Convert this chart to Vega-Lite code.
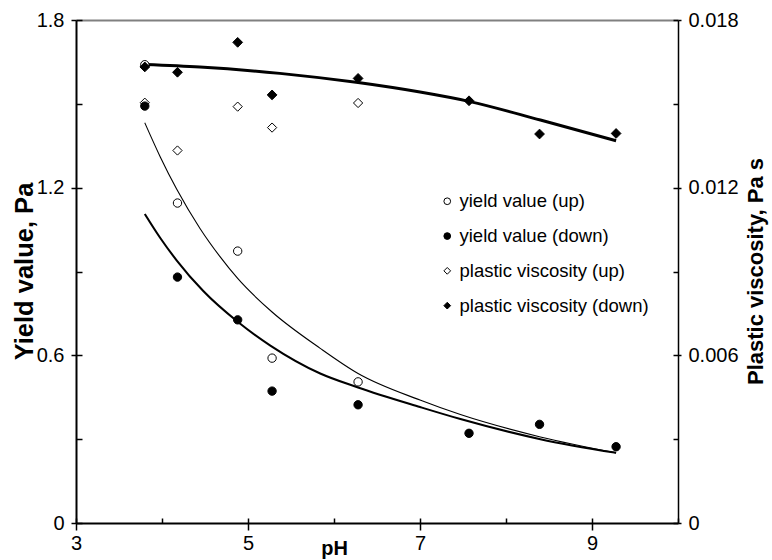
{
  "$schema": "https://vega.github.io/schema/vega-lite/v6.json",
  "width": 602,
  "height": 503,
  "autosize": {"type": "none"},
  "padding": {"left": 76, "top": 20, "right": 94, "bottom": 37},
  "background": "white",
  "config": {
    "font": "Liberation Sans",
    "view": {"stroke": null},
    "axis": {
      "grid": false,
      "domainColor": "black",
      "tickColor": "black",
      "labelColor": "black",
      "titleColor": "black",
      "labelFont": "Liberation Sans",
      "titleFont": "Liberation Sans",
      "labelFontSize": 20,
      "titleFontSize": 23,
      "titleFontWeight": "bold",
      "domainWidth": 2,
      "tickWidth": 1.5,
      "labelFlush": false,
      "labelOverlap": false
    },
    "legend": {
      "labelFontSize": 18.5,
      "labelFont": "Liberation Sans",
      "labelColor": "black",
      "labelLimit": 400,
      "symbolSize": 45,
      "rowPadding": 15.8,
      "labelOffset": 3,
      "symbolStrokeColor": "black",
      "symbolStrokeWidth": 1,
      "padding": 0
    }
  },
  "datasets": {
    "pts": [
      {"pH": 3.8, "value": 1.640, "series": "yield value (up)"},
      {"pH": 4.18, "value": 1.145, "series": "yield value (up)"},
      {"pH": 4.88, "value": 0.973, "series": "yield value (up)"},
      {"pH": 5.28, "value": 0.590, "series": "yield value (up)"},
      {"pH": 6.28, "value": 0.505, "series": "yield value (up)"},
      {"pH": 3.8, "value": 1.492, "series": "yield value (down)"},
      {"pH": 4.18, "value": 0.880, "series": "yield value (down)"},
      {"pH": 4.88, "value": 0.727, "series": "yield value (down)"},
      {"pH": 5.28, "value": 0.472, "series": "yield value (down)"},
      {"pH": 6.28, "value": 0.423, "series": "yield value (down)"},
      {"pH": 7.57, "value": 0.321, "series": "yield value (down)"},
      {"pH": 8.39, "value": 0.353, "series": "yield value (down)"},
      {"pH": 9.28, "value": 0.273, "series": "yield value (down)"},
      {"pH": 3.8, "value": 0.01504, "series": "plastic viscosity (up)"},
      {"pH": 4.18, "value": 0.01333, "series": "plastic viscosity (up)"},
      {"pH": 4.88, "value": 0.01490, "series": "plastic viscosity (up)"},
      {"pH": 5.28, "value": 0.01415, "series": "plastic viscosity (up)"},
      {"pH": 6.28, "value": 0.01503, "series": "plastic viscosity (up)"},
      {"pH": 3.8, "value": 0.01632, "series": "plastic viscosity (down)"},
      {"pH": 4.18, "value": 0.01613, "series": "plastic viscosity (down)"},
      {"pH": 4.88, "value": 0.01720, "series": "plastic viscosity (down)"},
      {"pH": 5.28, "value": 0.01532, "series": "plastic viscosity (down)"},
      {"pH": 6.28, "value": 0.01591, "series": "plastic viscosity (down)"},
      {"pH": 7.57, "value": 0.01511, "series": "plastic viscosity (down)"},
      {"pH": 8.39, "value": 0.01392, "series": "plastic viscosity (down)"},
      {"pH": 9.28, "value": 0.01394, "series": "plastic viscosity (down)"}
    ],
    "fits": [
      {"pH": 3.80, "value": 1.432, "curve": "yield up fit"},
      {"pH": 3.98, "value": 1.310, "curve": "yield up fit"},
      {"pH": 4.17, "value": 1.195, "curve": "yield up fit"},
      {"pH": 4.44, "value": 1.055, "curve": "yield up fit"},
      {"pH": 4.67, "value": 0.955, "curve": "yield up fit"},
      {"pH": 4.88, "value": 0.875, "curve": "yield up fit"},
      {"pH": 5.28, "value": 0.755, "curve": "yield up fit"},
      {"pH": 5.84, "value": 0.625, "curve": "yield up fit"},
      {"pH": 6.28, "value": 0.535, "curve": "yield up fit"},
      {"pH": 7.00, "value": 0.440, "curve": "yield up fit"},
      {"pH": 7.47, "value": 0.388, "curve": "yield up fit"},
      {"pH": 8.40, "value": 0.308, "curve": "yield up fit"},
      {"pH": 9.28, "value": 0.251, "curve": "yield up fit"},
      {"pH": 3.80, "value": 1.106, "curve": "yield down fit"},
      {"pH": 3.98, "value": 1.020, "curve": "yield down fit"},
      {"pH": 4.17, "value": 0.940, "curve": "yield down fit"},
      {"pH": 4.48, "value": 0.830, "curve": "yield down fit"},
      {"pH": 4.88, "value": 0.720, "curve": "yield down fit"},
      {"pH": 5.26, "value": 0.635, "curve": "yield down fit"},
      {"pH": 5.84, "value": 0.535, "curve": "yield down fit"},
      {"pH": 6.28, "value": 0.485, "curve": "yield down fit"},
      {"pH": 7.00, "value": 0.415, "curve": "yield down fit"},
      {"pH": 7.47, "value": 0.372, "curve": "yield down fit"},
      {"pH": 8.40, "value": 0.300, "curve": "yield down fit"},
      {"pH": 9.28, "value": 0.251, "curve": "yield down fit"},
      {"pH": 3.80, "value": 0.01641, "curve": "viscosity down fit"},
      {"pH": 4.44, "value": 0.01632, "curve": "viscosity down fit"},
      {"pH": 5.37, "value": 0.01609, "curve": "viscosity down fit"},
      {"pH": 6.28, "value": 0.01576, "curve": "viscosity down fit"},
      {"pH": 7.00, "value": 0.01542, "curve": "viscosity down fit"},
      {"pH": 7.58, "value": 0.01508, "curve": "viscosity down fit"},
      {"pH": 8.40, "value": 0.01442, "curve": "viscosity down fit"},
      {"pH": 9.28, "value": 0.01368, "curve": "viscosity down fit"}
    ]
  },
  "layer": [
    {
      "layer": [
        {
          "data": {"name": "fits"},
          "transform": [{"filter": {"field": "curve", "equal": "viscosity down fit"}}],
          "mark": {"type": "line", "color": "black", "interpolate": "monotone", "strokeJoin": "round"},
          "encoding": {
            "x": {"field": "pH", "type": "quantitative", "scale": {"domain": [3, 10], "nice": false},
              "axis": {"orient": "top", "domainColor": "#808080", "domainWidth": 2, "ticks": false, "labels": false, "title": null}},
            "y": {"field": "value", "type": "quantitative", "scale": {"domain": [0, 0.018], "nice": false},
              "axis": {"orient": "right", "values": [0, 0.006, 0.012, 0.018], "format": ".3~f", "tickSize": 3, "labelPadding": 7, "domainWidth": 1.5,
                "title": "Plastic viscosity, Pa s", "titleFontSize": 22, "titleAngle": 270, "titleX": 77, "titleY": 251, "titleBaseline": "middle", "titleAlign": "center"}},
            "detail": {"field": "curve"},
            "strokeWidth": {"field": "curve", "type": "nominal", "scale": {"domain": ["yield up fit", "yield down fit", "viscosity down fit"], "range": [1.1, 3, 3]}, "legend": null}
          }
        },
        {
          "data": {"name": "pts"},
          "transform": [{"filter": {"field": "series", "equal": "plastic viscosity (up)"}}],
          "mark": {"type": "point", "filled": true, "strokeWidth": 1, "opacity": 1, "size": 85},
          "encoding": {
            "x": {"field": "pH", "type": "quantitative"},
            "y": {"field": "value", "type": "quantitative"},
            "shape": {"field": "series", "type": "nominal",
              "scale": {"domain": ["yield value (up)", "yield value (down)", "plastic viscosity (up)", "plastic viscosity (down)"], "range": ["circle", "circle", "diamond", "diamond"]},
              "legend": {"orient": "none", "legendX": 362, "legendY": 172, "title": null}},
            "fill": {"field": "series", "type": "nominal",
              "scale": {"domain": ["yield value (up)", "yield value (down)", "plastic viscosity (up)", "plastic viscosity (down)"], "range": ["white", "black", "white", "black"]},
              "legend": {"orient": "none", "legendX": 362, "legendY": 172, "title": null}},
            "stroke": {"field": "series", "type": "nominal",
              "scale": {"domain": ["yield value (up)", "yield value (down)", "plastic viscosity (up)", "plastic viscosity (down)"], "range": ["black", "black", "black", "black"]},
              "legend": {"orient": "none", "legendX": 362, "legendY": 172, "title": null}}
          }
        }
      ]
    },
    {
      "layer": [
        {
          "data": {"name": "fits"},
          "transform": [{"filter": {"field": "curve", "oneOf": ["yield up fit", "yield down fit"]}}],
          "mark": {"type": "line", "color": "black", "interpolate": "monotone", "strokeJoin": "round"},
          "encoding": {
            "x": {"field": "pH", "type": "quantitative", "scale": {"domain": [3, 10], "nice": false},
              "axis": {"orient": "bottom", "values": [3, 5, 7, 9], "tickSize": 7, "labelPadding": 3,
                "title": "pH", "titleX": 258, "titleY": 25, "titleAlign": "center", "titleBaseline": "middle", "titleFontSize": 20}},
            "y": {"field": "value", "type": "quantitative", "scale": {"domain": [0, 1.8], "nice": false},
              "axis": {"orient": "left", "values": [0, 0.6, 1.2, 1.8], "format": "~g", "tickSize": 5, "labelPadding": 7,
                "title": "Yield value, Pa", "titleFontSize": 25.5, "titleAngle": 270, "titleX": -52, "titleY": 251, "titleBaseline": "middle", "titleAlign": "center"}},
            "detail": {"field": "curve"},
            "strokeWidth": {"field": "curve", "type": "nominal", "scale": {"domain": ["yield up fit", "yield down fit", "viscosity down fit"], "range": [1.1, 3, 3]}, "legend": null}
          }
        },
        {
          "data": {"name": "pts"},
          "transform": [{"filter": {"field": "series", "oneOf": ["yield value (up)", "yield value (down)"]}}],
          "mark": {"type": "point", "filled": true, "strokeWidth": 1, "opacity": 1, "size": 70},
          "encoding": {
            "x": {"field": "pH", "type": "quantitative",
              "axis": {"orient": "bottom", "values": [3, 4, 5, 6, 7, 8, 9, 10], "tickSize": -5, "labels": false, "domain": false, "title": null}},
            "y": {"field": "value", "type": "quantitative",
              "axis": {"orient": "left", "values": [0, 0.3, 0.6, 0.9, 1.2, 1.5, 1.8], "tickSize": -6, "labels": false, "domain": false, "title": null}},
            "shape": {"field": "series", "type": "nominal"},
            "fill": {"field": "series", "type": "nominal"},
            "stroke": {"field": "series", "type": "nominal"}
          }
        }
      ],
      "resolve": {"axis": {"x": "independent", "y": "independent"}}
    },
    {
      "data": {"name": "pts"},
      "transform": [{"filter": {"field": "series", "equal": "plastic viscosity (down)"}}],
      "mark": {"type": "point", "filled": true, "strokeWidth": 1, "opacity": 1, "size": 95},
      "encoding": {
        "x": {"field": "pH", "type": "quantitative", "axis": null},
        "y": {"field": "value", "type": "quantitative", "scale": {"domain": [0, 0.018], "nice": false},
          "axis": {"orient": "right", "values": [0, 0.003, 0.006, 0.009, 0.012, 0.015, 0.018], "tickSize": -5, "labels": false, "domain": false, "title": null}},
        "shape": {"field": "series", "type": "nominal"},
        "fill": {"field": "series", "type": "nominal"},
        "stroke": {"field": "series", "type": "nominal"}
      }
    }
  ],
  "resolve": {"scale": {"y": "independent"}, "axis": {"x": "independent", "y": "independent"}}
}
